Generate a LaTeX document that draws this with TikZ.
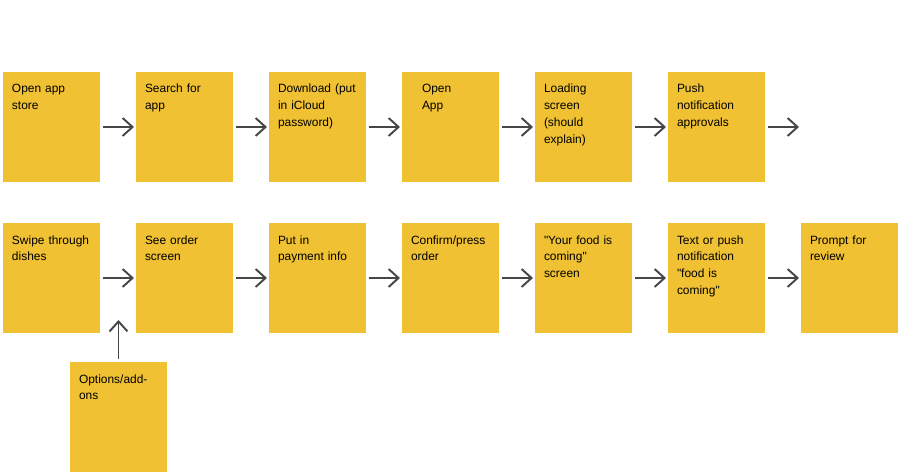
\documentclass[tikz,border=0pt]{standalone}
\usepackage{fontspec}
\setmainfont{Liberation Sans}
\usetikzlibrary{positioning, arrows.meta}
\definecolor{stickyyellow}{RGB}{240,193,50}
\definecolor{arrowgrey}{RGB}{70,70,70}
\newcommand{\qq}{\textquotedbl}
\tikzset{
  sticky/.style={
    rectangle,
    fill=stickyyellow,
    minimum width=1.94cm,
    text width=1.58cm,
    align=left,
    inner xsep=0.18cm,
    inner ysep=0.18cm,
    outer sep=0pt,
    text height=0.24cm,
    text depth=1.6cm,
    font=\fontsize{6.8}{9.6}\selectfont,
    anchor=north west
  },
  next/.style={right=0.72cm of #1.north east, anchor=north west},
  flow/.style={
    draw=arrowgrey,
    line width=1pt,
    -{Straight Barb[length=0.2cm,width=0.36cm,line width=1.1pt]},
    shorten <=0.06cm,
    shorten >=0.04cm
  }
}

\begin{document}
\begin{tikzpicture}
  \useasboundingbox (0,0) rectangle (18,-9.5);
  % Top row
  \node[sticky] (appstore) at (0.06,-1.44) {Open app\\store};
  \node[sticky, next=appstore] (search) {Search for\\app};
  \node[sticky, next=search] (download) {Download (put\\in iCloud\\password)};
  \node[sticky, next=download] (openapp) {\hspace*{0.22cm}Open\\\hspace*{0.22cm}App};
  \node[sticky, next=openapp] (loading) {Loading\\screen\\(should\\explain)};
  \node[sticky, next=loading] (push) {Push\\notification\\approvals};
  \coordinate[right=0.72cm of push] (pushout);
  % Bottom row
  \node[sticky] (swipe) at (0.06,-4.46) {Swipe through\\dishes};
  \node[sticky, next=swipe] (order) {See order\\screen};
  \node[sticky, next=order] (payment) {Put in\\payment info};
  \node[sticky, next=payment] (confirm) {Confirm/press\\order};
  \node[sticky, next=confirm] (coming) {\qq Your food is\\coming\qq\\screen};
  \node[sticky, next=coming] (notify) {Text or push\\notification\\\qq food is\\coming\qq};
  \node[sticky, next=notify] (review) {Prompt for\\review};
  % Add-ons
  \node[sticky] (options) at (1.4,-7.24) {Options/add-\\ons};
  \coordinate[above=0.88cm of options.north] (optionsin);
  % Arrows
  \draw[flow] (appstore) -- (search);
  \draw[flow] (search) -- (download);
  \draw[flow] (download) -- (openapp);
  \draw[flow] (openapp) -- (loading);
  \draw[flow] (loading) -- (push);
  \draw[flow] (push) -- (pushout);
  \draw[flow] (swipe) -- (order);
  \draw[flow] (order) -- (payment);
  \draw[flow] (payment) -- (confirm);
  \draw[flow] (confirm) -- (coming);
  \draw[flow] (coming) -- (notify);
  \draw[flow] (notify) -- (review);
  \draw[flow] (options) -- (optionsin);
\end{tikzpicture}
\end{document}
